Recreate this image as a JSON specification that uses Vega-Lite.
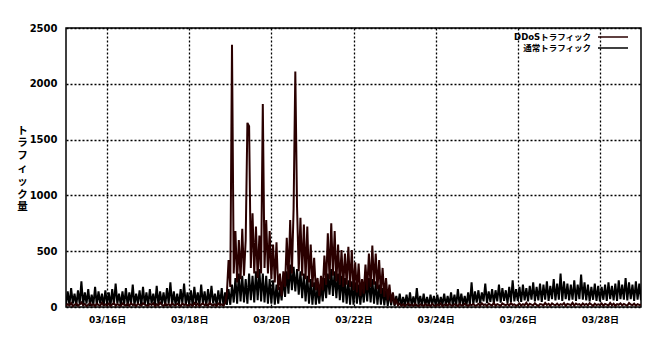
{
"$schema": "https://vega.github.io/schema/vega-lite/v6.json",
"width": 575, "height": 279,
"autosize": {"type": "none"},
"padding": {"left": 66, "top": 28, "right": 13, "bottom": 30},
"background": "white",
"config": {
  "font": "DejaVu Sans, Noto Sans CJK JP",
  "view": {"stroke": "black", "strokeWidth": 1.5}
},
"data": {"values": [
{"t":"2011-03-15T00:00","n":20,"d":10},{"t":"2011-03-15T01:00","n":140,"d":25},{"t":"2011-03-15T02:00","n":15,"d":15},{"t":"2011-03-15T03:00","n":170,"d":35},{"t":"2011-03-15T04:00","n":30,"d":8},{"t":"2011-03-15T05:00","n":120,"d":20},{"t":"2011-03-15T06:00","n":10,"d":30},{"t":"2011-03-15T07:00","n":150,"d":12},{"t":"2011-03-15T08:00","n":25,"d":22},{"t":"2011-03-15T09:00","n":230,"d":40},{"t":"2011-03-15T10:00","n":15,"d":15},{"t":"2011-03-15T11:00","n":130,"d":28},{"t":"2011-03-15T12:00","n":30,"d":10},{"t":"2011-03-15T13:00","n":160,"d":18},{"t":"2011-03-15T14:00","n":10,"d":33},{"t":"2011-03-15T15:00","n":110,"d":14},{"t":"2011-03-15T16:00","n":20,"d":25},{"t":"2011-03-15T17:00","n":180,"d":9},{"t":"2011-03-15T18:00","n":15,"d":30},{"t":"2011-03-15T19:00","n":140,"d":20},{"t":"2011-03-15T20:00","n":30,"d":12},{"t":"2011-03-15T21:00","n":120,"d":38},{"t":"2011-03-15T22:00","n":10,"d":16},{"t":"2011-03-15T23:00","n":150,"d":24},
{"t":"2011-03-16T00:00","n":25,"d":14},{"t":"2011-03-16T01:00","n":130,"d":30},{"t":"2011-03-16T02:00","n":10,"d":10},{"t":"2011-03-16T03:00","n":160,"d":22},{"t":"2011-03-16T04:00","n":20,"d":36},{"t":"2011-03-16T05:00","n":210,"d":12},{"t":"2011-03-16T06:00","n":30,"d":26},{"t":"2011-03-16T07:00","n":120,"d":18},{"t":"2011-03-16T08:00","n":15,"d":9},{"t":"2011-03-16T09:00","n":140,"d":32},{"t":"2011-03-16T10:00","n":20,"d":20},{"t":"2011-03-16T11:00","n":170,"d":15},{"t":"2011-03-16T12:00","n":10,"d":28},{"t":"2011-03-16T13:00","n":130,"d":11},{"t":"2011-03-16T14:00","n":25,"d":35},{"t":"2011-03-16T15:00","n":200,"d":17},{"t":"2011-03-16T16:00","n":15,"d":24},{"t":"2011-03-16T17:00","n":120,"d":8},{"t":"2011-03-16T18:00","n":30,"d":29},{"t":"2011-03-16T19:00","n":150,"d":19},{"t":"2011-03-16T20:00","n":10,"d":13},{"t":"2011-03-16T21:00","n":180,"d":34},{"t":"2011-03-16T22:00","n":20,"d":21},{"t":"2011-03-16T23:00","n":130,"d":16},
{"t":"2011-03-17T00:00","n":15,"d":12},{"t":"2011-03-17T01:00","n":160,"d":27},{"t":"2011-03-17T02:00","n":30,"d":18},{"t":"2011-03-17T03:00","n":120,"d":33},{"t":"2011-03-17T04:00","n":10,"d":9},{"t":"2011-03-17T05:00","n":190,"d":24},{"t":"2011-03-17T06:00","n":20,"d":15},{"t":"2011-03-17T07:00","n":140,"d":38},{"t":"2011-03-17T08:00","n":25,"d":20},{"t":"2011-03-17T09:00","n":130,"d":11},{"t":"2011-03-17T10:00","n":10,"d":30},{"t":"2011-03-17T11:00","n":170,"d":16},{"t":"2011-03-17T12:00","n":30,"d":25},{"t":"2011-03-17T13:00","n":220,"d":10},{"t":"2011-03-17T14:00","n":15,"d":34},{"t":"2011-03-17T15:00","n":140,"d":19},{"t":"2011-03-17T16:00","n":20,"d":14},{"t":"2011-03-17T17:00","n":120,"d":28},{"t":"2011-03-17T18:00","n":10,"d":22},{"t":"2011-03-17T19:00","n":160,"d":8},{"t":"2011-03-17T20:00","n":30,"d":31},{"t":"2011-03-17T21:00","n":210,"d":17},{"t":"2011-03-17T22:00","n":15,"d":26},{"t":"2011-03-17T23:00","n":130,"d":13},
{"t":"2011-03-18T00:00","n":20,"d":18},{"t":"2011-03-18T01:00","n":150,"d":23},{"t":"2011-03-18T02:00","n":10,"d":11},{"t":"2011-03-18T03:00","n":180,"d":36},{"t":"2011-03-18T04:00","n":30,"d":14},{"t":"2011-03-18T05:00","n":130,"d":29},{"t":"2011-03-18T06:00","n":15,"d":9},{"t":"2011-03-18T07:00","n":200,"d":21},{"t":"2011-03-18T08:00","n":25,"d":33},{"t":"2011-03-18T09:00","n":140,"d":16},{"t":"2011-03-18T10:00","n":10,"d":27},{"t":"2011-03-18T11:00","n":160,"d":12},{"t":"2011-03-18T12:00","n":20,"d":38},{"t":"2011-03-18T13:00","n":190,"d":20},{"t":"2011-03-18T14:00","n":30,"d":15},{"t":"2011-03-18T15:00","n":120,"d":25},{"t":"2011-03-18T16:00","n":15,"d":10},{"t":"2011-03-18T17:00","n":150,"d":31},{"t":"2011-03-18T18:00","n":25,"d":18},{"t":"2011-03-18T19:00","n":170,"d":24},{"t":"2011-03-18T20:00","n":10,"d":13},{"t":"2011-03-18T21:00","n":130,"d":35},{"t":"2011-03-18T22:00","n":20,"d":120},{"t":"2011-03-18T23:00","n":160,"d":420},
{"t":"2011-03-19T00:00","n":20,"d":180},{"t":"2011-03-19T01:00","n":200,"d":2350},{"t":"2011-03-19T02:00","n":40,"d":300},{"t":"2011-03-19T03:00","n":260,"d":680},{"t":"2011-03-19T04:00","n":30,"d":220},{"t":"2011-03-19T05:00","n":300,"d":600},{"t":"2011-03-19T06:00","n":50,"d":250},{"t":"2011-03-19T07:00","n":280,"d":700},{"t":"2011-03-19T08:00","n":40,"d":280},{"t":"2011-03-19T09:00","n":250,"d":600},{"t":"2011-03-19T10:00","n":30,"d":1650},{"t":"2011-03-19T11:00","n":300,"d":1620},{"t":"2011-03-19T12:00","n":60,"d":350},{"t":"2011-03-19T13:00","n":280,"d":840},{"t":"2011-03-19T14:00","n":40,"d":300},{"t":"2011-03-19T15:00","n":320,"d":720},{"t":"2011-03-19T16:00","n":60,"d":260},{"t":"2011-03-19T17:00","n":340,"d":640},{"t":"2011-03-19T18:00","n":50,"d":300},{"t":"2011-03-19T19:00","n":300,"d":1820},{"t":"2011-03-19T20:00","n":40,"d":350},{"t":"2011-03-19T21:00","n":280,"d":780},{"t":"2011-03-19T22:00","n":30,"d":300},{"t":"2011-03-19T23:00","n":250,"d":680},
{"t":"2011-03-20T00:00","n":30,"d":250},{"t":"2011-03-20T01:00","n":240,"d":560},{"t":"2011-03-20T02:00","n":20,"d":220},{"t":"2011-03-20T03:00","n":200,"d":580},{"t":"2011-03-20T04:00","n":30,"d":150},{"t":"2011-03-20T05:00","n":180,"d":300},{"t":"2011-03-20T06:00","n":60,"d":100},{"t":"2011-03-20T07:00","n":260,"d":320},{"t":"2011-03-20T08:00","n":90,"d":180},{"t":"2011-03-20T09:00","n":320,"d":620},{"t":"2011-03-20T10:00","n":120,"d":250},{"t":"2011-03-20T11:00","n":380,"d":780},{"t":"2011-03-20T12:00","n":150,"d":300},{"t":"2011-03-20T13:00","n":360,"d":880},{"t":"2011-03-20T14:00","n":140,"d":2110},{"t":"2011-03-20T15:00","n":340,"d":900},{"t":"2011-03-20T16:00","n":110,"d":320},{"t":"2011-03-20T17:00","n":320,"d":800},{"t":"2011-03-20T18:00","n":80,"d":280},{"t":"2011-03-20T19:00","n":300,"d":740},{"t":"2011-03-20T20:00","n":50,"d":250},{"t":"2011-03-20T21:00","n":280,"d":720},{"t":"2011-03-20T22:00","n":30,"d":220},{"t":"2011-03-20T23:00","n":250,"d":560},
{"t":"2011-03-21T00:00","n":20,"d":180},{"t":"2011-03-21T01:00","n":220,"d":440},{"t":"2011-03-21T02:00","n":20,"d":150},{"t":"2011-03-21T03:00","n":180,"d":260},{"t":"2011-03-21T04:00","n":30,"d":100},{"t":"2011-03-21T05:00","n":200,"d":280},{"t":"2011-03-21T06:00","n":50,"d":150},{"t":"2011-03-21T07:00","n":260,"d":460},{"t":"2011-03-21T08:00","n":80,"d":200},{"t":"2011-03-21T09:00","n":300,"d":660},{"t":"2011-03-21T10:00","n":110,"d":250},{"t":"2011-03-21T11:00","n":340,"d":750},{"t":"2011-03-21T12:00","n":100,"d":280},{"t":"2011-03-21T13:00","n":320,"d":680},{"t":"2011-03-21T14:00","n":80,"d":230},{"t":"2011-03-21T15:00","n":300,"d":560},{"t":"2011-03-21T16:00","n":60,"d":200},{"t":"2011-03-21T17:00","n":280,"d":510},{"t":"2011-03-21T18:00","n":40,"d":180},{"t":"2011-03-21T19:00","n":260,"d":480},{"t":"2011-03-21T20:00","n":30,"d":200},{"t":"2011-03-21T21:00","n":240,"d":540},{"t":"2011-03-21T22:00","n":20,"d":180},{"t":"2011-03-21T23:00","n":230,"d":510},
{"t":"2011-03-22T00:00","n":20,"d":150},{"t":"2011-03-22T01:00","n":220,"d":400},{"t":"2011-03-22T02:00","n":30,"d":130},{"t":"2011-03-22T03:00","n":200,"d":390},{"t":"2011-03-22T04:00","n":20,"d":100},{"t":"2011-03-22T05:00","n":190,"d":250},{"t":"2011-03-22T06:00","n":40,"d":120},{"t":"2011-03-22T07:00","n":240,"d":380},{"t":"2011-03-22T08:00","n":50,"d":150},{"t":"2011-03-22T09:00","n":260,"d":480},{"t":"2011-03-22T10:00","n":40,"d":180},{"t":"2011-03-22T11:00","n":250,"d":550},{"t":"2011-03-22T12:00","n":30,"d":200},{"t":"2011-03-22T13:00","n":230,"d":480},{"t":"2011-03-22T14:00","n":20,"d":160},{"t":"2011-03-22T15:00","n":200,"d":420},{"t":"2011-03-22T16:00","n":20,"d":120},{"t":"2011-03-22T17:00","n":170,"d":350},{"t":"2011-03-22T18:00","n":15,"d":90},{"t":"2011-03-22T19:00","n":150,"d":260},{"t":"2011-03-22T20:00","n":10,"d":60},{"t":"2011-03-22T21:00","n":130,"d":200},{"t":"2011-03-22T22:00","n":15,"d":40},{"t":"2011-03-22T23:00","n":120,"d":130},
{"t":"2011-03-23T00:00","n":10,"d":20},{"t":"2011-03-23T01:00","n":100,"d":60},{"t":"2011-03-23T02:00","n":15,"d":15},{"t":"2011-03-23T03:00","n":120,"d":30},{"t":"2011-03-23T04:00","n":10,"d":12},{"t":"2011-03-23T05:00","n":90,"d":25},{"t":"2011-03-23T06:00","n":20,"d":9},{"t":"2011-03-23T07:00","n":110,"d":20},{"t":"2011-03-23T08:00","n":10,"d":30},{"t":"2011-03-23T09:00","n":130,"d":14},{"t":"2011-03-23T10:00","n":15,"d":22},{"t":"2011-03-23T11:00","n":95,"d":10},{"t":"2011-03-23T12:00","n":10,"d":28},{"t":"2011-03-23T13:00","n":170,"d":16},{"t":"2011-03-23T14:00","n":20,"d":8},{"t":"2011-03-23T15:00","n":100,"d":24},{"t":"2011-03-23T16:00","n":10,"d":18},{"t":"2011-03-23T17:00","n":120,"d":11},{"t":"2011-03-23T18:00","n":15,"d":26},{"t":"2011-03-23T19:00","n":90,"d":13},{"t":"2011-03-23T20:00","n":10,"d":21},{"t":"2011-03-23T21:00","n":110,"d":9},{"t":"2011-03-23T22:00","n":20,"d":27},{"t":"2011-03-23T23:00","n":100,"d":15},
{"t":"2011-03-24T00:00","n":15,"d":10},{"t":"2011-03-24T01:00","n":110,"d":22},{"t":"2011-03-24T02:00","n":10,"d":14},{"t":"2011-03-24T03:00","n":90,"d":30},{"t":"2011-03-24T04:00","n":20,"d":9},{"t":"2011-03-24T05:00","n":120,"d":19},{"t":"2011-03-24T06:00","n":10,"d":25},{"t":"2011-03-24T07:00","n":100,"d":12},{"t":"2011-03-24T08:00","n":15,"d":28},{"t":"2011-03-24T09:00","n":130,"d":16},{"t":"2011-03-24T10:00","n":20,"d":11},{"t":"2011-03-24T11:00","n":110,"d":24},{"t":"2011-03-24T12:00","n":10,"d":20},{"t":"2011-03-24T13:00","n":160,"d":8},{"t":"2011-03-24T14:00","n":15,"d":27},{"t":"2011-03-24T15:00","n":120,"d":15},{"t":"2011-03-24T16:00","n":20,"d":13},{"t":"2011-03-24T17:00","n":100,"d":29},{"t":"2011-03-24T18:00","n":10,"d":18},{"t":"2011-03-24T19:00","n":130,"d":10},{"t":"2011-03-24T20:00","n":15,"d":23},{"t":"2011-03-24T21:00","n":220,"d":17},{"t":"2011-03-24T22:00","n":20,"d":26},{"t":"2011-03-24T23:00","n":140,"d":12},
{"t":"2011-03-25T00:00","n":40,"d":15},{"t":"2011-03-25T01:00","n":150,"d":28},{"t":"2011-03-25T02:00","n":30,"d":11},{"t":"2011-03-25T03:00","n":130,"d":33},{"t":"2011-03-25T04:00","n":50,"d":18},{"t":"2011-03-25T05:00","n":210,"d":24},{"t":"2011-03-25T06:00","n":35,"d":9},{"t":"2011-03-25T07:00","n":140,"d":30},{"t":"2011-03-25T08:00","n":45,"d":20},{"t":"2011-03-25T09:00","n":160,"d":14},{"t":"2011-03-25T10:00","n":30,"d":36},{"t":"2011-03-25T11:00","n":150,"d":12},{"t":"2011-03-25T12:00","n":50,"d":25},{"t":"2011-03-25T13:00","n":200,"d":19},{"t":"2011-03-25T14:00","n":40,"d":10},{"t":"2011-03-25T15:00","n":170,"d":32},{"t":"2011-03-25T16:00","n":55,"d":22},{"t":"2011-03-25T17:00","n":150,"d":16},{"t":"2011-03-25T18:00","n":35,"d":27},{"t":"2011-03-25T19:00","n":180,"d":13},{"t":"2011-03-25T20:00","n":45,"d":35},{"t":"2011-03-25T21:00","n":240,"d":18},{"t":"2011-03-25T22:00","n":50,"d":24},{"t":"2011-03-25T23:00","n":160,"d":11},
{"t":"2011-03-26T00:00","n":55,"d":20},{"t":"2011-03-26T01:00","n":180,"d":31},{"t":"2011-03-26T02:00","n":45,"d":13},{"t":"2011-03-26T03:00","n":200,"d":26},{"t":"2011-03-26T04:00","n":60,"d":17},{"t":"2011-03-26T05:00","n":170,"d":38},{"t":"2011-03-26T06:00","n":50,"d":12},{"t":"2011-03-26T07:00","n":190,"d":29},{"t":"2011-03-26T08:00","n":65,"d":22},{"t":"2011-03-26T09:00","n":220,"d":15},{"t":"2011-03-26T10:00","n":50,"d":34},{"t":"2011-03-26T11:00","n":180,"d":19},{"t":"2011-03-26T12:00","n":60,"d":10},{"t":"2011-03-26T13:00","n":210,"d":27},{"t":"2011-03-26T14:00","n":45,"d":24},{"t":"2011-03-26T15:00","n":200,"d":14},{"t":"2011-03-26T16:00","n":65,"d":36},{"t":"2011-03-26T17:00","n":230,"d":18},{"t":"2011-03-26T18:00","n":55,"d":28},{"t":"2011-03-26T19:00","n":190,"d":11},{"t":"2011-03-26T20:00","n":70,"d":33},{"t":"2011-03-26T21:00","n":250,"d":21},{"t":"2011-03-26T22:00","n":60,"d":16},{"t":"2011-03-26T23:00","n":210,"d":30},
{"t":"2011-03-27T00:00","n":65,"d":14},{"t":"2011-03-27T01:00","n":300,"d":26},{"t":"2011-03-27T02:00","n":55,"d":19},{"t":"2011-03-27T03:00","n":230,"d":35},{"t":"2011-03-27T04:00","n":70,"d":11},{"t":"2011-03-27T05:00","n":210,"d":28},{"t":"2011-03-27T06:00","n":60,"d":23},{"t":"2011-03-27T07:00","n":200,"d":16},{"t":"2011-03-27T08:00","n":65,"d":37},{"t":"2011-03-27T09:00","n":240,"d":13},{"t":"2011-03-27T10:00","n":55,"d":30},{"t":"2011-03-27T11:00","n":200,"d":20},{"t":"2011-03-27T12:00","n":70,"d":25},{"t":"2011-03-27T13:00","n":290,"d":12},{"t":"2011-03-27T14:00","n":65,"d":32},{"t":"2011-03-27T15:00","n":220,"d":18},{"t":"2011-03-27T16:00","n":60,"d":27},{"t":"2011-03-27T17:00","n":200,"d":15},{"t":"2011-03-27T18:00","n":50,"d":34},{"t":"2011-03-27T19:00","n":180,"d":22},{"t":"2011-03-27T20:00","n":65,"d":10},{"t":"2011-03-27T21:00","n":210,"d":29},{"t":"2011-03-27T22:00","n":55,"d":17},{"t":"2011-03-27T23:00","n":190,"d":24},
{"t":"2011-03-28T00:00","n":50,"d":18},{"t":"2011-03-28T01:00","n":180,"d":32},{"t":"2011-03-28T02:00","n":65,"d":12},{"t":"2011-03-28T03:00","n":200,"d":27},{"t":"2011-03-28T04:00","n":55,"d":21},{"t":"2011-03-28T05:00","n":220,"d":14},{"t":"2011-03-28T06:00","n":70,"d":36},{"t":"2011-03-28T07:00","n":190,"d":16},{"t":"2011-03-28T08:00","n":60,"d":29},{"t":"2011-03-28T09:00","n":210,"d":11},{"t":"2011-03-28T10:00","n":55,"d":25},{"t":"2011-03-28T11:00","n":240,"d":20},{"t":"2011-03-28T12:00","n":70,"d":33},{"t":"2011-03-28T13:00","n":200,"d":15},{"t":"2011-03-28T14:00","n":65,"d":28},{"t":"2011-03-28T15:00","n":260,"d":19},{"t":"2011-03-28T16:00","n":60,"d":13},{"t":"2011-03-28T17:00","n":220,"d":35},{"t":"2011-03-28T18:00","n":70,"d":22},{"t":"2011-03-28T19:00","n":200,"d":17},{"t":"2011-03-28T20:00","n":55,"d":30},{"t":"2011-03-28T21:00","n":230,"d":12},{"t":"2011-03-28T22:00","n":65,"d":26},{"t":"2011-03-28T23:00","n":210,"d":19},
{"t":"2011-03-29T00:00","n":60,"d":20}
]},
"transform": [{"fold": ["n", "d"], "as": ["s", "v"]}],
"mark": {"type": "line", "strokeWidth": 2, "clip": true},
"encoding": {
  "x": {"field": "t", "type": "temporal",
    "scale": {"domain": [{"year": 2011, "month": 3, "date": 15}, {"year": 2011, "month": 3, "date": 29}]},
    "axis": {"title": null, "orient": "bottom",
      "values": [{"year": 2011, "month": 3, "date": 16}, {"year": 2011, "month": 3, "date": 18}, {"year": 2011, "month": 3, "date": 20}, {"year": 2011, "month": 3, "date": 22}, {"year": 2011, "month": 3, "date": 24}, {"year": 2011, "month": 3, "date": 26}, {"year": 2011, "month": 3, "date": 28}],
      "format": "%m/%d日", "labelFontSize": 9, "labelFontWeight": "bold", "labelColor": "black",
      "labelPadding": 8, "ticks": false, "domain": false,
      "grid": true, "gridColor": "black", "gridDash": [2, 2], "gridWidth": 1.3, "gridOpacity": 1}},
  "y": {"field": "v", "type": "quantitative",
    "scale": {"domain": [0, 2500], "nice": false},
    "axis": {"values": [0, 500, 1000, 1500, 2000, 2500], "format": "d", "labelFontSize": 10, "labelFontWeight": "bold", "labelColor": "black",
      "labelPadding": 9, "ticks": false, "domain": false,
      "grid": true, "gridColor": "black", "gridDash": [2, 2], "gridWidth": 1.3, "gridOpacity": 1,
      "title": ["ト", "ラ", "フ", "ィ", "ッ", "ク", "量"], "titleAngle": 0, "titleX": -44, "titleY": 97,
      "titleAlign": "center", "titleBaseline": "top", "titleFontSize": 10.5, "titleFontWeight": "bold",
      "titleLineHeight": 12.8, "titleColor": "black"}},
  "color": {"field": "s", "type": "nominal",
    "scale": {"domain": ["d", "n"], "range": ["#2a0000", "#000000"]},
    "legend": {"orient": "none", "legendX": 541, "legendY": 3, "title": null, "padding": 0,
      "symbolType": "M-3,0H3", "symbolSize": 100, "symbolStrokeWidth": 1.5, "symbolStrokeColor": "black",
      "labelAlign": "right", "labelOffset": -28, "labelFontSize": 8.5, "labelFontWeight": "bold", "labelColor": "black",
      "rowPadding": 0,
      "labelExpr": "datum.value == 'd' ? 'DDoSトラフィック' : '通常トラフィック'"}}
}
}
